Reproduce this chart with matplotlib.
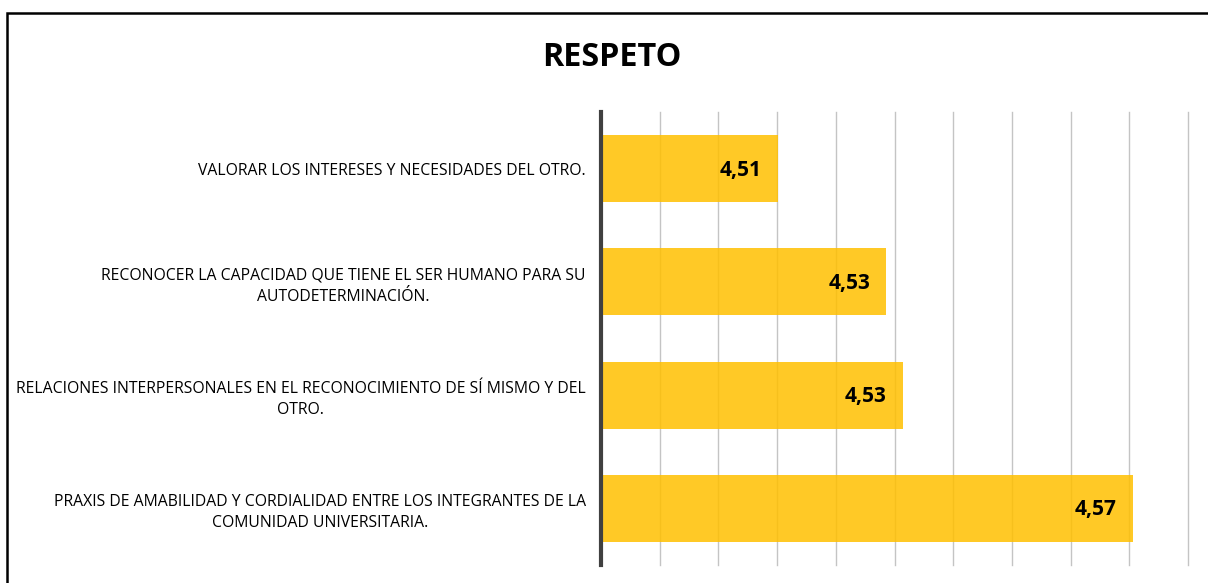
import matplotlib.pyplot as plt
import matplotlib.patches as patches
from matplotlib.ticker import MultipleLocator

plt.rcParams['font.family'] = ['Open Sans', 'DejaVu Sans']

categorias = [
    'VALORAR LOS INTERESES Y NECESIDADES DEL OTRO.',
    'RECONOCER LA CAPACIDAD QUE TIENE EL SER HUMANO PARA SU\nAUTODETERMINACIÓN.',
    'RELACIONES INTERPERSONALES EN EL RECONOCIMIENTO DE SÍ MISMO Y DEL\nOTRO.',
    'PRAXIS DE AMABILIDAD Y CORDIALIDAD ENTRE LOS INTEGRANTES DE LA\nCOMUNIDAD UNIVERSITARIA.',
]
valores = [4.5101, 4.5286, 4.5314, 4.5706]
etiquetas = ['4,51', '4,53', '4,53', '4,57']

W, H = 1208, 583
fig = plt.figure(figsize=(W / 100, H / 100), dpi=100)
ax = fig.add_axes([601 / W, 1 - 565 / H, (1188 - 601) / W, (565 - 112) / H])

y = list(range(len(categorias)))
ax.barh(y, [v - 4.48 for v in valores], left=4.48, height=0.59,
        color='#FFC000', alpha=0.85, zorder=2)
ax.set_xlim(4.48, 4.58)
ax.set_ylim(3.5, -0.5)
ax.xaxis.set_major_locator(MultipleLocator(0.01))
ax.grid(axis='x', color='#C4C4C4', lw=1, zorder=1)
for gl in ax.get_xgridlines():
    gl.set_clip_on(False)
ax.tick_params(axis='x', length=0, labelbottom=False)
ax.tick_params(axis='y', length=0, pad=11)
ax.set_yticks(y)
ax.set_yticklabels(categorias, fontsize=11.3, ha='right', multialignment='center',
                   linespacing=1.4)
for s in ['top', 'right', 'bottom']:
    ax.spines[s].set_visible(False)
ax.spines['left'].set_color('#404040')
ax.spines['left'].set_linewidth(3)
ax.spines['left'].set_zorder(3)

for yi, v, t in zip(y, valores, etiquetas):
    ax.annotate(t, (v, yi), xytext=(-11.5, -1), textcoords='offset points',
                ha='right', va='center', fontsize=15, fontweight='bold', zorder=4)

fig.text(612 / W, 1 - 57 / H, 'RESPETO', ha='center', va='center',
         fontsize=23.3, fontweight='bold')

fig.patches.append(patches.Rectangle((7 / W, -0.1), 1.2, 1 - 13 / H + 0.1,
                                     transform=fig.transFigure, fill=False,
                                     edgecolor='black', lw=1.8))

fig.savefig('out.png', dpi=100)
